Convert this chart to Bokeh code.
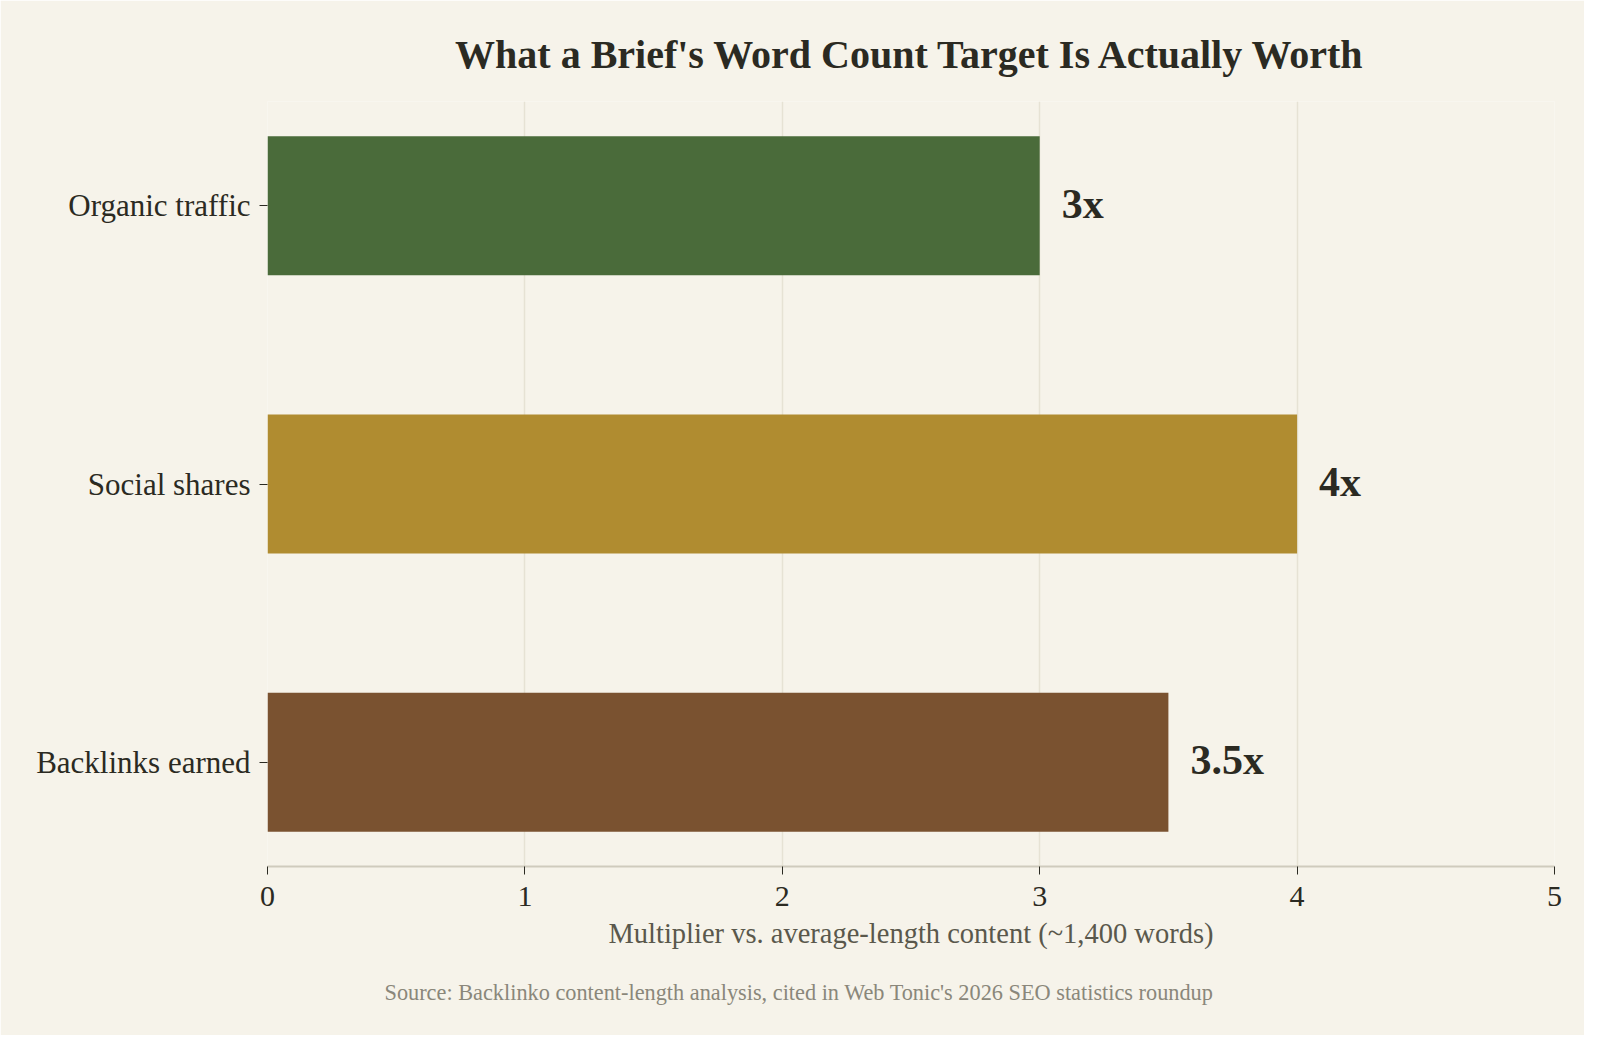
from bokeh.models import ColumnDataSource, Range1d, FixedTicker, Title
from bokeh.plotting import figure
from bokeh.embed import file_html
from bokeh.resources import INLINE

categories = ['Organic traffic', 'Social shares', 'Backlinks earned']
multipliers = [3, 4, 3.5]
value_labels = ['3x', '4x', '3.5x']
bar_colors = ['#4a6b3a', '#b08c30', '#7a5230']

FONT = 'Liberation Serif'
INK = '#2b2a22'
BG = '#f6f3ea'

pos = list(range(len(categories)))
src = ColumnDataSource(dict(y=pos, x=multipliers, lab=value_labels, color=bar_colors))

p = figure(width=1584, height=1035, output_backend='svg', toolbar_location=None,
           x_range=Range1d(0, 5), y_range=Range1d(2.375, -0.375),
           min_border_left=267, min_border_right=30, min_border_top=101, min_border_bottom=168)
p.background_fill_color = BG
p.border_fill_color = BG
p.outline_line_color = None

p.title.text = "What a Brief's Word Count Target Is Actually Worth"
p.title.align = 'center'
p.title.text_font = FONT
p.title.text_font_size = '40px'
p.title.text_font_style = 'bold'
p.title.text_color = INK
p.title.standoff = 50

p.hbar(y='y', right='x', left=0, height=0.5, fill_color='color', line_color=None, source=src)
p.text(x='x', y='y', text='lab', x_offset=22, y_offset=-2, text_align='left', text_baseline='middle',
       text_font={'value': FONT}, text_font_size='42px', text_font_style='bold',
       text_color=INK, source=src)

p.xaxis.ticker = FixedTicker(ticks=[0, 1, 2, 3, 4, 5])
p.xaxis.axis_label = 'Multiplier vs. average-length content (~1,400 words)'
p.xaxis.axis_label_text_font = FONT
p.xaxis.axis_label_text_font_size = '28.5px'
p.xaxis.axis_label_text_font_style = 'normal'
p.xaxis.axis_label_text_color = '#5a584c'
p.xaxis.axis_label_standoff = 9
p.xaxis.axis_line_color = '#cfcbbd'
p.xaxis.axis_line_width = 2
p.xaxis.major_tick_line_color = INK
p.xaxis.major_tick_out = 8
p.xaxis.major_tick_in = 0
p.xaxis.minor_tick_line_color = None
p.xaxis.major_label_text_font = FONT
p.xaxis.major_label_text_font_size = '30px'
p.xaxis.major_label_text_color = INK
p.xaxis.major_label_standoff = 12

p.yaxis.ticker = FixedTicker(ticks=pos)
p.yaxis.major_label_overrides = {i: c for i, c in zip(pos, categories)}
p.yaxis.axis_line_color = None
p.yaxis.major_tick_line_color = INK
p.yaxis.major_tick_out = 8
p.yaxis.major_tick_in = 0
p.yaxis.minor_tick_line_color = None
p.yaxis.major_label_text_font = FONT
p.yaxis.major_label_text_font_size = '31px'
p.yaxis.major_label_text_color = INK
p.yaxis.major_label_standoff = 9

p.xgrid.grid_line_color = '#e6e2d4'
p.xgrid.grid_line_width = 1.5
p.ygrid.grid_line_color = None

# source line sits centred on the whole canvas, not on the frame
src_note = Title(text="Source: Backlinko content-length analysis, cited in Web Tonic's 2026 SEO statistics roundup",
                 align='left', offset=117, text_font=FONT, text_font_size='22.3px', text_font_style='normal',
                 text_color='#8a877a', standoff=57, vertical_align='top', text_line_height=0.6)
p.add_layout(src_note, 'below')

open('out.html', 'w').write(file_html(p, INLINE))
